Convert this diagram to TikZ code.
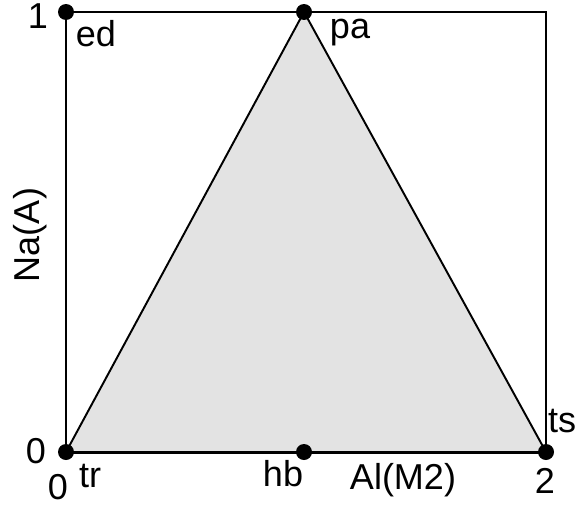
\documentclass[tikz,border=0pt]{standalone}
\usepackage{fontspec}
\setmainfont{Liberation Sans}
\usetikzlibrary{positioning}

\tikzset{
  pt/.style={circle,fill=black,inner sep=0pt,minimum size=0.32cm},
  lbl/.style={inner sep=0pt,font=\fontsize{20.5}{24}\selectfont},
}

\begin{document}
\begin{tikzpicture}[x=0.02cm,y=0.02cm]
        \useasboundingbox (-66,-56) rectangle (511,452);
        % corners of the diagram
        \coordinate (trc) at (0,0);
        \coordinate (hbc) at (238,0);
        \coordinate (tsc) at (480,0);
        \coordinate (edc) at (0,440);
        \coordinate (pac) at (238,440);
        \coordinate (tl) at (480,440);

        \fill[black!11] (trc) -- (pac) -- (tsc) -- cycle;
        \draw[line width=0.9pt] (trc) -- (edc) -- (tl) -- (tsc);
        \draw[line width=1.1pt,line join=round] (trc) -- (pac) -- (tsc);
        \draw[line width=1.7pt] (trc) -- (tsc);

        \node[pt] (tr) at (trc) {};
        \node[pt] (hb) at (hbc) {};
        \node[pt] (ts) at (tsc) {};
        \node[pt] (ed) at (edc) {};
        \node[pt] (pa) at (pac) {};

        \node[lbl] (one) at (-28,436) {1};
        \node[lbl] (edl) at (30,418) {ed};
        \node[lbl] (pal) at (284,419) {pa};
        \node[lbl] (zeroy) at (-30,1) {0};
        \node[lbl] (zerox) at (-8,-35) {0};
        \node[lbl] (trl) at (24,-24) {tr};
        \node[lbl] (hbl) at (217,-22) {hb};
        \node[lbl] (axx) at (337,-28) {Al(M2)};
        \node[lbl] (tsl) at (496,31) {ts};
        \node[lbl] (two) at (479,-29) {2};
        \node[lbl,rotate=90] (axy) at (-36,217) {Na(A)};
    \end{tikzpicture}
\end{document}
